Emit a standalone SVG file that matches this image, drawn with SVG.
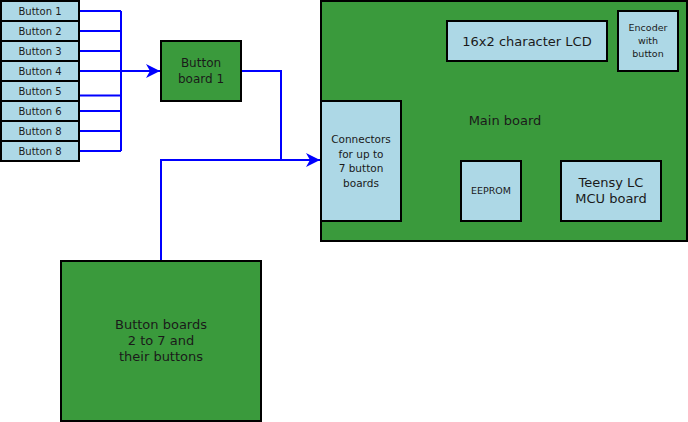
<svg xmlns="http://www.w3.org/2000/svg" width="688" height="422" viewBox="0 0 688 422">
<defs>
<style>
.g{fill:#3a9a3c;stroke:#000;stroke-width:2}
.b{fill:#add8e6;stroke:#000;stroke-width:2}
.w{fill:none;stroke:#0000ff;stroke-width:2}
text{font-family:"DejaVu Sans","Liberation Sans",sans-serif;fill:#1a1a1a;text-anchor:middle}
.s{font-size:10px}
.c{font-size:10.5px}
.m{font-size:12px}
.l{font-size:13px}
.t{font-size:9.5px}
</style>
<marker id="ah" markerWidth="14" markerHeight="14" refX="14" refY="7" orient="auto" markerUnits="userSpaceOnUse">
<path d="M0,0 L14,7 L0,14 L4,7 Z" fill="#0000ff"/>
</marker>
</defs>
<rect width="688" height="422" fill="#fff"/>
<g id="connectors">
<path class="w" d="M79,11H121M79,31H121M79,51H121M79,95.5H121M79,111H121M79,131H121M79,151H121M121,11V151"/>
<path class="w" d="M79,71H160" marker-end="url(#ah)"/>
<path class="w" d="M241,71H281V160"/>
<path class="w" d="M161,261V160H320" marker-end="url(#ah)"/>
</g>
<g id="buttons">
<g id="button1"><rect class="b" x="1" y="1" width="78" height="20"/><text class="s" x="40" y="14.5">Button 1</text></g>
<g id="button2"><rect class="b" x="1" y="21" width="78" height="20"/><text class="s" x="40" y="34.5">Button 2</text></g>
<g id="button3"><rect class="b" x="1" y="41" width="78" height="20"/><text class="s" x="40" y="54.5">Button 3</text></g>
<g id="button4"><rect class="b" x="1" y="61" width="78" height="20"/><text class="s" x="40" y="74.5">Button 4</text></g>
<g id="button5"><rect class="b" x="1" y="81" width="78" height="20"/><text class="s" x="40" y="94.5">Button 5</text></g>
<g id="button6"><rect class="b" x="1" y="101" width="78" height="20"/><text class="s" x="40" y="114.5">Button 6</text></g>
<g id="button7"><rect class="b" x="1" y="121" width="78" height="20"/><text class="s" x="40" y="134.5">Button 8</text></g>
<g id="button8"><rect class="b" x="1" y="141" width="78" height="20"/><text class="s" x="40" y="154.5">Button 8</text></g>
</g>
<g id="buttonboard1"><rect class="g" x="161" y="41" width="80" height="60"/><text class="m" x="201" y="67">Button</text><text class="m" x="201" y="83">board 1</text></g>
<g id="mainboard"><rect class="g" x="321" y="1" width="366" height="240"/><text class="l" x="505" y="125">Main board</text></g>
<g id="lcd"><rect class="b" x="447" y="21" width="160" height="40"/><text class="l" x="527" y="46">16x2 character LCD</text></g>
<g id="encoder"><rect class="b" x="618" y="11" width="60" height="60"/><text class="t" x="648" y="31">Encoder</text><text class="t" x="648" y="44">with</text><text class="t" x="648" y="57">button</text></g>
<g id="connectorsbox"><rect class="b" x="321" y="101" width="80" height="120"/><text class="c" x="361" y="143">Connectors</text><text class="c" x="361" y="157.5">for up to</text><text class="c" x="361" y="172">7 button</text><text class="c" x="361" y="186.5">boards</text></g>
<g id="eeprom"><rect class="b" x="461" y="161" width="60" height="60"/><text class="t" x="491" y="194">EEPROM</text></g>
<g id="teensy"><rect class="b" x="561" y="161" width="100" height="60"/><text class="l" x="611" y="187">Teensy LC</text><text class="l" x="611" y="203">MCU board</text></g>
<g id="buttonboards"><rect class="g" x="61" y="261" width="200" height="160"/><text class="l" x="161" y="329">Button boards</text><text class="l" x="161" y="345">2 to 7 and</text><text class="l" x="161" y="361">their buttons</text></g>
</svg>
